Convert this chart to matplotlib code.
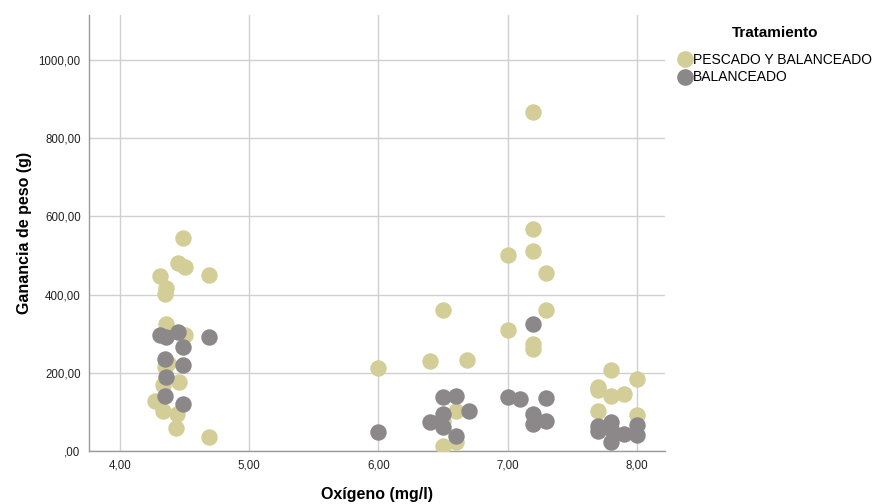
import matplotlib
matplotlib.use("Agg")
import matplotlib.pyplot as plt
from matplotlib.ticker import FuncFormatter
from matplotlib.lines import Line2D

plt.rcParams['font.family'] = ['Liberation Sans', 'DejaVu Sans']

# Tratamiento: PESCADO Y BALANCEADO
pescado_oxigeno = [4.49, 4.45, 4.50, 4.31, 4.69, 4.36, 4.35, 4.36, 4.50, 4.35,
                   4.37, 4.33, 4.46, 4.27, 4.33, 4.44, 4.43, 4.69,
                   6.00, 6.40, 6.50, 6.69, 6.60, 6.50, 6.60, 6.50,
                   7.00, 7.00, 7.20, 7.20, 7.20, 7.30, 7.30, 7.20, 7.20,
                   7.70, 7.70, 7.70, 7.80, 7.80, 7.90, 8.00, 8.00]
pescado_ganancia = [545, 481, 472, 447, 451, 417, 403, 326, 296, 214,
                    224, 168, 176, 129, 103, 95, 58, 37,
                    212, 231, 362, 233, 103, 78, 22, 14,
                    501, 310, 866, 568, 511, 456, 362, 275, 262,
                    163, 155, 103, 208, 142, 146, 185, 92]

# Tratamiento: BALANCEADO
balanceado_oxigeno = [4.31, 4.36, 4.45, 4.69, 4.49, 4.35, 4.49, 4.36, 4.35, 4.49,
                      6.00, 6.40, 6.50, 6.50, 6.50, 6.60, 6.60, 6.70,
                      7.00, 7.10, 7.20, 7.20, 7.20, 7.30, 7.30,
                      7.70, 7.70, 7.80, 7.80, 7.80, 7.90, 8.00, 8.00]
balanceado_ganancia = [296, 291, 304, 291, 266, 236, 219, 189, 142, 121,
                       49, 74, 138, 95, 61, 142, 39, 103,
                       138, 133, 326, 95, 69, 136, 78,
                       63, 52, 74, 56, 24, 44, 67, 40]

x_ticks = [4, 5, 6, 7, 8]
y_ticks = [0, 200, 400, 600, 800, 1000]

tan = '#D3CE97'
gray = '#8C8789'


def coma(v, pos=None):
    s = f"{v:.2f}".replace('.', ',')
    if s.startswith('0,'):
        s = s[1:]
    return s


fig = plt.figure(figsize=(8.75, 5.04), dpi=100)
ax = fig.add_axes([0.1017, 0.105, 0.658, 0.865])

ax.scatter(pescado_oxigeno, pescado_ganancia, s=140, color=tan, linewidths=0, zorder=3)
ax.scatter(balanceado_oxigeno, balanceado_ganancia, s=140, color=gray, linewidths=0, zorder=4)

ax.set_xlim(3.76, 8.217)
ax.set_ylim(0, 1115)
ax.set_xticks(x_ticks)
ax.set_yticks(y_ticks)
ax.xaxis.set_major_formatter(FuncFormatter(coma))
ax.yaxis.set_major_formatter(FuncFormatter(coma))
ax.tick_params(length=0, labelsize=8.3, colors='#222222', pad=6)

ax.grid(True, color='#d0d0d0', linewidth=1, zorder=0)
ax.set_axisbelow(True)
for side in ['top', 'right']:
    ax.spines[side].set_visible(False)
for side in ['left', 'bottom']:
    ax.spines[side].set_color('#9a9a9a')
    ax.spines[side].set_linewidth(1)

ax.set_xlabel('Oxígeno (mg/l)', fontsize=11.5, fontweight='bold', labelpad=11)
ax.set_ylabel('Ganancia de peso (g)', fontsize=11.5, fontweight='bold', labelpad=5)

# legend title placed separately to get the wider gap of the original
fig.text(775 / 875, 1 - 33 / 504, 'Tratamiento', ha='center', va='center',
         fontsize=11, fontweight='bold')
handles = [Line2D([], [], marker='o', linestyle='', markersize=12,
                  markerfacecolor=tan, markeredgewidth=0),
           Line2D([], [], marker='o', linestyle='', markersize=12,
                  markerfacecolor=gray, markeredgewidth=0)]
fig.legend(handles, ['PESCADO Y BALANCEADO', 'BALANCEADO'],
           loc='upper left', bbox_to_anchor=(0.775, 0.895), frameon=False,
           fontsize=10, handletextpad=0.05, handlelength=1.0,
           labelspacing=0.25, borderaxespad=0, borderpad=0)

fig.savefig('out.png', dpi=100)
